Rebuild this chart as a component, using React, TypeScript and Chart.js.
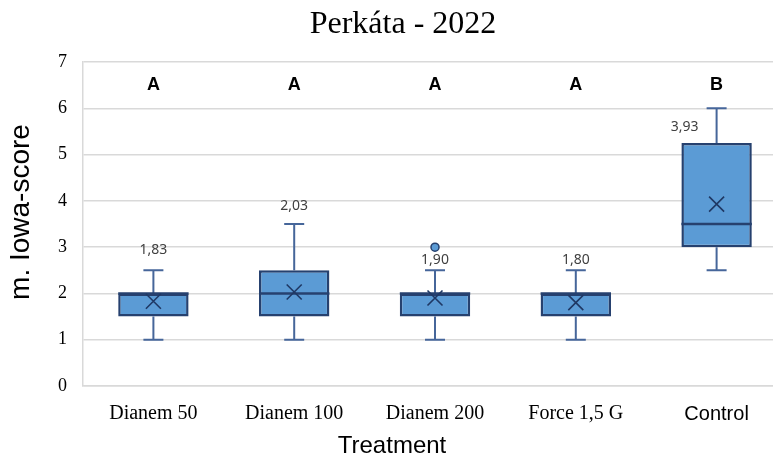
import { useEffect, useRef } from 'react';
import { Chart, registerables } from 'chart.js';

Chart.register(...registerables);

// ---- data ----
const categories = ['Dianem 50', 'Dianem 100', 'Dianem 200', 'Force 1,5 G', 'Control'];
const whiskerMin = [1, 1, 1, 1, 2.5];
const quartile1 = [1.5, 1.5, 1.5, 1.5, 3];
const medians = [2, 2, 2, 2, 3.5];
const quartile3 = [2, 2.5, 2, 2, 5.25];
const whiskerMax = [2.5, 3.5, 2.5, 2.5, 6];
const means = [1.83, 2.03, 1.9, 1.8, 3.93];
const meanLabels = ['1,83', '2,03', '1,90', '1,80', '3,93'];
const outliers: number[][] = [[], [], [3], [], []];
const groupLetters = ['A', 'A', 'A', 'A', 'B'];
const letterLevel = 6.5;
const yMin = 0;
const yMax = 7;
const yStep = 1;

const titleText = 'Perkáta - 2022';
const xTitle = 'Treatment';
const yTitle = 'm. Iowa-score';

const CANVAS_W = 788;
const CANVAS_H = 457;

const BOX_FILL = '#5b9bd5';
const BOX_EDGE = '#26416f';
const WHISKER = '#46669a';
const GRID = '#d9d9d9';

export default function App() {
  const ref = useRef<HTMLCanvasElement>(null);

  useEffect(() => {
    if (!ref.current) return;

    // label placement (pixels relative to whisker top), styling only
    const labelPlacement = [
      { dx: 0, dy: -20 },
      { dx: 0, dy: -18 },
      { dx: 0, dy: -10 },
      { dx: 0, dy: -10 },
      { dx: -32, dy: 19 },
    ];

    const boxPlugin = {
      id: 'boxExtras',
      beforeDatasetsDraw(chart: any) {
        const ctx = chart.ctx;
        const xs = chart.scales.x;
        const ys = chart.scales.y;
        ctx.save();
        ctx.strokeStyle = WHISKER;
        ctx.lineWidth = 2;
        categories.forEach((_, i) => {
          const cx = xs.getPixelForValue(i);
          const cap = 10;
          const yTop = ys.getPixelForValue(whiskerMax[i]);
          const yQ3 = ys.getPixelForValue(quartile3[i]);
          const yQ1 = ys.getPixelForValue(quartile1[i]);
          const yBot = ys.getPixelForValue(whiskerMin[i]);
          ctx.beginPath();
          ctx.moveTo(cx, yQ3);
          ctx.lineTo(cx, yTop);
          ctx.moveTo(cx - cap, yTop);
          ctx.lineTo(cx + cap, yTop);
          ctx.moveTo(cx, yQ1);
          ctx.lineTo(cx, yBot);
          ctx.moveTo(cx - cap, yBot);
          ctx.lineTo(cx + cap, yBot);
          ctx.stroke();
        });
        ctx.restore();
      },
      afterDatasetsDraw(chart: any) {
        const ctx = chart.ctx;
        const xs = chart.scales.x;
        const ys = chart.scales.y;
        const meta = chart.getDatasetMeta(0);
        ctx.save();
        categories.forEach((_, i) => {
          const cx = xs.getPixelForValue(i);
          const half = meta.data[i].width / 2;
          // median
          const yMed = ys.getPixelForValue(medians[i]);
          ctx.strokeStyle = BOX_EDGE;
          ctx.lineWidth = 2.5;
          ctx.beginPath();
          ctx.moveTo(cx - half, yMed);
          ctx.lineTo(cx + half, yMed);
          ctx.stroke();
          // mean X
          const yMean = ys.getPixelForValue(means[i]);
          const s = 7.5;
          ctx.strokeStyle = '#1f3864';
          ctx.lineWidth = 1.6;
          ctx.beginPath();
          ctx.moveTo(cx - s, yMean - s);
          ctx.lineTo(cx + s, yMean + s);
          ctx.moveTo(cx + s, yMean - s);
          ctx.lineTo(cx - s, yMean + s);
          ctx.stroke();
          // outliers
          outliers[i].forEach((v) => {
            const oy = ys.getPixelForValue(v);
            ctx.beginPath();
            ctx.arc(cx, oy, 4, 0, Math.PI * 2);
            ctx.fillStyle = BOX_FILL;
            ctx.fill();
            ctx.strokeStyle = BOX_EDGE;
            ctx.lineWidth = 1.5;
            ctx.stroke();
          });
          // mean label
          const p = labelPlacement[i];
          const yTop = ys.getPixelForValue(whiskerMax[i]);
          ctx.fillStyle = '#404040';
          ctx.font = '14px "Noto Sans"';
          ctx.textAlign = 'center';
          ctx.textBaseline = 'middle';
          ctx.fillText(meanLabels[i], cx + p.dx, yTop + p.dy);
          // group letter
          ctx.fillStyle = '#000';
          ctx.font = 'bold 18px "Liberation Sans"';
          ctx.fillText(groupLetters[i], cx, ys.getPixelForValue(letterLevel));
        });

        // titles
        ctx.fillStyle = '#000';
        ctx.textAlign = 'center';
        ctx.textBaseline = 'alphabetic';
        ctx.font = '32px "Liberation Serif"';
        ctx.fillText(titleText, 403, 33);
        ctx.font = '24px "Liberation Sans"';
        ctx.fillText(xTitle, 392, 453);
        ctx.save();
        ctx.translate(21, 212);
        ctx.rotate(-Math.PI / 2);
        ctx.textBaseline = 'middle';
        ctx.font = '28px "Liberation Sans"';
        ctx.fillText(yTitle, 0, 0);
        ctx.restore();
        ctx.restore();
      },
    };

    const chart = new Chart(ref.current, {
      type: 'bar',
      data: {
        labels: categories,
        datasets: [
          {
            data: categories.map((_, i) => [quartile1[i], quartile3[i]]),
            backgroundColor: BOX_FILL,
            borderColor: BOX_EDGE,
            borderWidth: 2.5,
            borderSkipped: false,
            barPercentage: 0.5,
            categoryPercentage: 1,
          } as any,
        ],
      },
      options: {
        responsive: false,
        animation: false,
        layout: { padding: { top: 62, right: 1, left: 0, bottom: 0 } },
        plugins: {
          legend: { display: false },
          tooltip: { enabled: false },
          title: { display: false },
        },
        scales: {
          x: {
            grid: { display: false, drawTicks: false },
            border: { color: GRID, width: 1.5 },
            ticks: {
              padding: 16,
              color: '#000',
              font: (c: any) =>
                c.index === 4
                  ? { family: 'Liberation Sans', size: 20 }
                  : { family: 'Liberation Serif', size: 20 },
            },
            afterFit: (s: any) => {
              s.height = 71;
            },
          } as any,
          y: {
            min: yMin,
            max: yMax,
            ticks: {
              stepSize: yStep,
              padding: 16,
              color: '#000',
              font: { family: 'Liberation Serif', size: 18 },
            },
            grid: { color: GRID, lineWidth: 1.5, drawTicks: false },
            border: { color: GRID, width: 1.5 },
            afterFit: (s: any) => {
              s.width = 83;
            },
          } as any,
        },
      },
      plugins: [boxPlugin],
    });
    return () => chart.destroy();
  }, []);

  return (
    <div
      style={{
        position: 'fixed',
        left: 0,
        top: 0,
        width: 773,
        height: 457,
        overflow: 'hidden',
        background: '#fff',
      }}
    >
      <canvas ref={ref} width={CANVAS_W} height={CANVAS_H} style={{ display: 'block' }} />
    </div>
  );
}
